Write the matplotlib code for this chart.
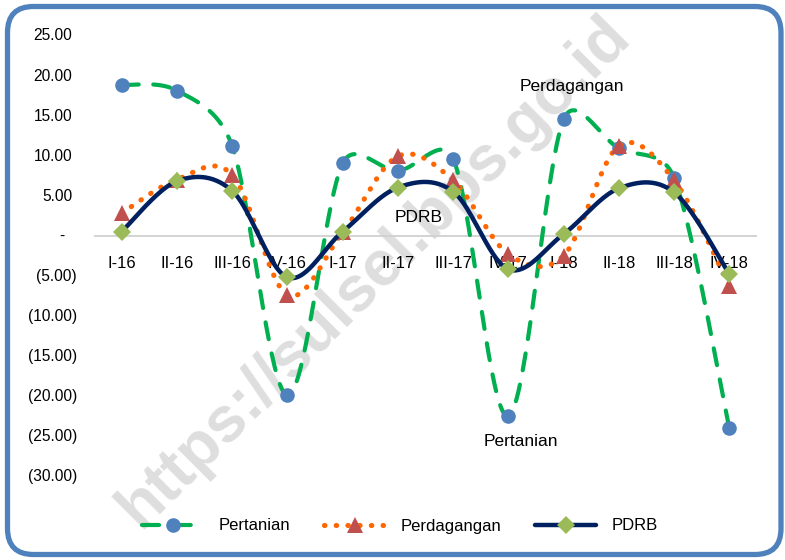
import numpy as np
import matplotlib
matplotlib.use("Agg")
import matplotlib.pyplot as plt
from matplotlib.lines import Line2D
from matplotlib.patches import FancyBboxPatch
from matplotlib.transforms import IdentityTransform, blended_transform_factory

plt.rcParams['font.family'] = ['Liberation Sans', 'DejaVu Sans']

categories = ["I-16", "II-16", "III-16", "IV-16", "I-17", "II-17", "III-17",
              "IV-17", "I-18", "II-18", "III-18", "IV-18"]
pertanian = [18.9, 18.2, 11.3, -19.8, 9.1, 8.2, 9.7, -22.4, 14.6, 11.0, 7.3, -23.9]
perdagangan = [2.9, 7.1, 7.7, -7.3, 0.5, 10.0, 7.0, -2.2, -2.4, 11.3, 7.0, -6.2]
pdrb = [0.6, 6.9, 5.7, -5.1, 0.6, 6.1, 5.6, -4.1, 0.3, 6.0, 5.5, -4.7]
yticks = [25, 20, 15, 10, 5, 0, -5, -10, -15, -20, -25, -30]

W, H = 785, 560
fig = plt.figure(figsize=(W / 100, H / 100), dpi=100)
ax = fig.add_axes([94 / W, 83 / H, 663 / W, 441 / H])
ax.set_xlim(-0.5, len(categories) - 0.5)
ax.set_ylim(-30, 25)
ax.patch.set_visible(False)
for s in ['left', 'right', 'top', 'bottom']:
    ax.spines[s].set_visible(False)
ax.set_xticks([])
ax.set_yticks([])
ax.axhline(0, color='#D0D0D0', lw=1.3, zorder=1)


def smooth(xs, ys, n=40, f=1 / 6.0):
    """Excel-like smoothed line computed in display space."""
    pts = ax.transData.transform(np.column_stack([xs, ys]))
    m = len(pts)
    out = [pts[0]]
    for i in range(m - 1):
        p0 = pts[i - 1] if i > 0 else pts[i]
        p1 = pts[i]
        p2 = pts[i + 1]
        p3 = pts[i + 2] if i + 2 < m else pts[i + 1]
        seg = np.linalg.norm(p2 - p1)
        t1 = (p2 - p0) * f
        t2 = (p3 - p1) * f
        lim = 0.5 * seg
        if np.linalg.norm(t1) > lim:
            t1 = t1 * lim / np.linalg.norm(t1)
        if np.linalg.norm(t2) > lim:
            t2 = t2 * lim / np.linalg.norm(t2)
        c1 = p1 + t1
        c2 = p2 - t2
        t = np.linspace(0, 1, n)[1:, None]
        b = ((1 - t) ** 3) * p1 + 3 * ((1 - t) ** 2) * t * c1 + 3 * (1 - t) * t ** 2 * c2 + t ** 3 * p2
        out.extend(b)
    out = np.array(out)
    d = ax.transData.inverted().transform(out)
    return d[:, 0], d[:, 1]


x = np.arange(len(categories))

# watermark
ax.text(374 / W, 1 - 272 / H, "https://sulsel.bps.go.id", transform=fig.transFigure,
        rotation=45, fontsize=46, fontweight='bold', color='#DEDEDE',
        ha='center', va='center', zorder=0.5, rotation_mode='anchor')

green = '#00B050'
blue = '#4F81BD'
orange = '#FF6600'
red = '#C0504D'
navy = '#002060'
lgreen = '#9BBB59'

DOTS = (0.08, 2.2)
DASH = (4.1, 3.5)

sx, sy = smooth(x, pertanian)
ax.plot(sx, sy, color=green, lw=3.0, dashes=DASH, dash_capstyle='round',
        zorder=3, clip_on=False)
ax.plot(x, pertanian, 'o', color=blue, ms=10.5, mew=0, zorder=3.1, clip_on=False)

sx, sy = smooth(x, perdagangan)
ax.plot(sx, sy, color=orange, lw=3.7, dashes=DOTS, dash_capstyle='round',
        zorder=4, clip_on=False)
ax.plot(x, perdagangan, '^', color=red, ms=11, mew=0, zorder=4.1, clip_on=False)

sx, sy = smooth(x, pdrb)
ax.plot(sx, sy, color=navy, lw=3.2, solid_capstyle='round', zorder=5, clip_on=False)
ax.plot(x, pdrb, 'D', color=lgreen, ms=9, mew=0, zorder=5.1, clip_on=False)

# category labels
for i, c in enumerate(categories):
    ax.annotate(c, (i, 0), xytext=(0, -19.4), textcoords='offset points',
                ha='center', va='center', fontsize=12, color='black', zorder=1)

# y labels (accounting style)
bt = blended_transform_factory(fig.transFigure, ax.transData)
for v in yticks:
    if v > 0:
        ax.text(72.5 / W, v, f"{v:.2f}", transform=bt, ha='right', va='center', fontsize=11.2)
    elif v < 0:
        ax.text(77 / W, v, f"({-v:.2f})", transform=bt, ha='right', va='center', fontsize=11.2)
    else:
        ax.text(62 / W, v, "-", transform=bt, ha='center', va='center', fontsize=11.2)

# series labels
ax.text(572 / W, 1 - 86 / H, "Perdagangan", transform=fig.transFigure, ha='center', va='center', fontsize=12.5)
ax.text(418.5 / W, 1 - 218 / H, "PDRB", transform=fig.transFigure, ha='center', va='center', fontsize=12.5)
ax.text(520.5 / W, 1 - 441 / H, "Pertanian", transform=fig.transFigure, ha='center', va='center', fontsize=12.5)

handles = [
    Line2D([], [], color=green, lw=3.0, dashes=DASH, dash_capstyle='round',
           marker='o', mfc=blue, mec=blue, ms=10.5, mew=0),
    Line2D([], [], color=orange, lw=3.7, dashes=DOTS, dash_capstyle='round',
           marker='^', mfc=red, mec=red, ms=11, mew=0),
    Line2D([], [], color=navy, lw=3.2, solid_capstyle='round',
           marker='D', mfc=lgreen, mec=lgreen, ms=9, mew=0),
]
fig.legend(handles, ["Pertanian", "Perdagangan", "PDRB"], loc='center',
           bbox_to_anchor=(400 / W, 1 - 526 / H), ncol=3, frameon=False,
           handlelength=3.7, handletextpad=0.9, columnspacing=2.0, fontsize=12)

# rounded border
box = FancyBboxPatch((7.5, 5.5), 773.5, 548, boxstyle='round,pad=0,rounding_size=26',
                     transform=IdentityTransform(), facecolor='none',
                     edgecolor='#4F81BD', lw=3.8, zorder=10)
fig.add_artist(box)

fig.savefig("out.png", dpi=100)
